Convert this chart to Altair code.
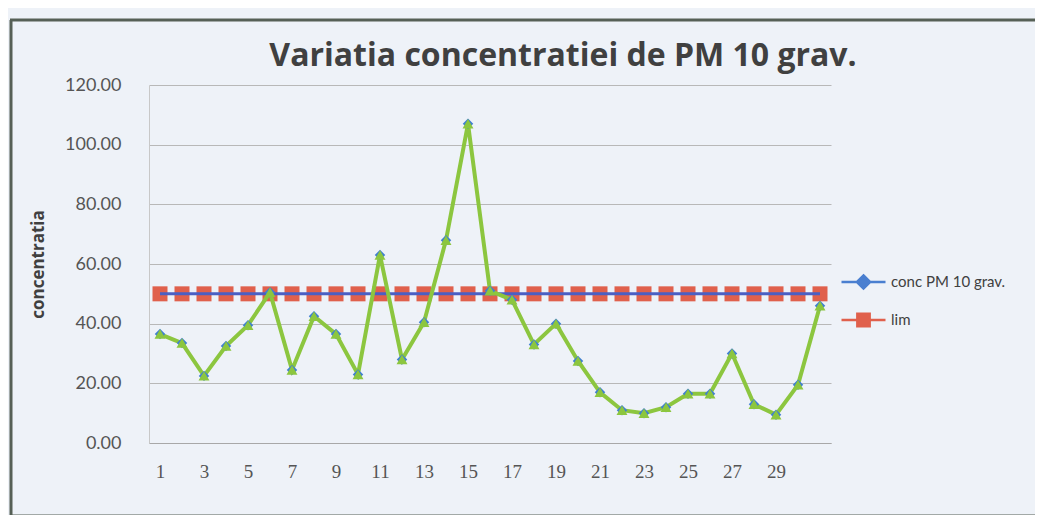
import altair as alt
import pandas as pd

days = list(range(1, 32))
conc = [36.5, 33.5, 22.5, 32.5, 39.5, 50.5, 24.5, 42.5, 36.5, 23.0,
        63.0, 28.0, 40.5, 68.0, 107.0, 51.0, 48.0, 33.0, 40.0, 27.5,
        17.0, 11.0, 10.0, 12.0, 16.5, 16.5, 30.0, 13.0, 9.5, 19.5, 46.0]
lim = [50.0] * 31
x_ticks = list(range(1, 30, 2))
y_ticks = [0, 20, 40, 60, 80, 100, 120]
series_names = ["conc PM 10 grav.", "lim"]
series_colors = ["#4a7fd0", "#e0604c"]
legend_shapes = [
    "M-1,0L1,0M0,-0.3L0.3,0L0,0.3L-0.3,0Z",
    "M-1,0L1,0M-0.28,-0.28L0.28,-0.28L0.28,0.28L-0.28,0.28Z",
]
title_text = "Variatia concentratiei de PM 10 grav."

df = pd.DataFrame({"day": days, "conc": conc, "lim": lim})
leg = pd.DataFrame({"series": series_names})
one = pd.DataFrame({"a": [0]})

xs = alt.Scale(domain=[0.5, 31.5], nice=False, zero=False)
ys = alt.Scale(domain=[0, 120], nice=False)

xaxis = alt.Axis(values=x_ticks, format="d", grid=False, ticks=False, title=None,
                 labelFont="Liberation Serif", labelFontSize=19, labelColor="#555555",
                 labelPadding=19, domainColor="#a8a8a8", labelFlush=False)
yaxis = alt.Axis(values=y_ticks, format=".2f", grid=True, gridColor="#b8b8b8", ticks=False,
                 title="concentratia", titleFont="Open Sans", titleFontSize=17, titleFontWeight="bold",
                 titleColor="#404040", titleX=-111, titleY=179, titleBaseline="middle", titleAngle=270,
                 labelFont="Lato", labelFontSize=18, labelColor="#555555", labelPadding=28,
                 domainColor="#c8c8c8")

base = alt.Chart(df)

lim_sq = base.mark_square(size=225, color="#e0604c", opacity=1).encode(
    x=alt.X("day:Q", scale=xs, axis=xaxis),
    y=alt.Y("lim:Q", scale=ys, axis=yaxis),
)
lim_line = base.mark_line(color="#4a5fc4", strokeWidth=3).encode(
    x=alt.X("day:Q", scale=xs), y=alt.Y("lim:Q", scale=ys)
)
conc_line = base.mark_line(color="#8cc63f", strokeWidth=4).encode(
    x=alt.X("day:Q", scale=xs), y=alt.Y("conc:Q", scale=ys)
)
conc_dia = base.mark_point(shape="diamond", filled=True, size=110, color="#3f7fd0", opacity=1).encode(
    x=alt.X("day:Q", scale=xs), y=alt.Y("conc:Q", scale=ys)
)
conc_tri = base.mark_point(shape="triangle-up", filled=True, size=120, color="#8cc63f", opacity=1).encode(
    x=alt.X("day:Q", scale=xs), y=alt.Y("conc:Q", scale=ys)
)

leg_layer = alt.Chart(leg).mark_point(filled=True, size=1936, strokeWidth=2.5, opacity=1).encode(
    x=alt.value(-3000), y=alt.value(0),
    fill=alt.Fill("series:N", scale=alt.Scale(domain=series_names, range=series_colors),
                  legend=alt.Legend(title=None, orient="none", legendX=691, legendY=178,
                                    symbolSize=1936, symbolStrokeWidth=2.5, clipHeight=38,
                                    rowPadding=0, padding=0, labelOffset=4,
                                    labelFont="Lato", labelFontSize=15, labelColor="#404040")),
    stroke=alt.Stroke("series:N", scale=alt.Scale(domain=series_names, range=series_colors)),
    shape=alt.Shape("series:N", scale=alt.Scale(domain=series_names, range=legend_shapes)),
)

frame_style = dict(color="#566056", strokeWidth=3)
frame_left = alt.Chart(one).mark_rule(**frame_style).encode(
    x=alt.value(-138), y=alt.value(-65), y2=alt.value(431)
)
frame_top = alt.Chart(one).mark_rule(**frame_style).encode(
    x=alt.value(-139), x2=alt.value(900), y=alt.value(-65)
)
frame_bottom = alt.Chart(one).mark_rule(**frame_style).encode(
    x=alt.value(-139), x2=alt.value(900), y=alt.value(431)
)
title = alt.Chart(one).mark_text(text=title_text, font="Open Sans", fontSize=32, fontWeight="bold",
                                 color="#404040", align="center", baseline="alphabetic").encode(
    x=alt.value(414), y=alt.value(-19)
)

chart = alt.layer(lim_sq, lim_line, conc_line, conc_dia, conc_tri, leg_layer,
                  frame_left, frame_top, frame_bottom, title).properties(
    width=682, height=358,
    autosize=alt.AutoSizeParams(type="none"),
    padding={"left": 141, "top": 77, "right": 204, "bottom": 72},
    background="#eef2f8",
).configure_view(stroke=None)

chart.save("out.html", embed_options={"renderer": "svg", "actions": False})
